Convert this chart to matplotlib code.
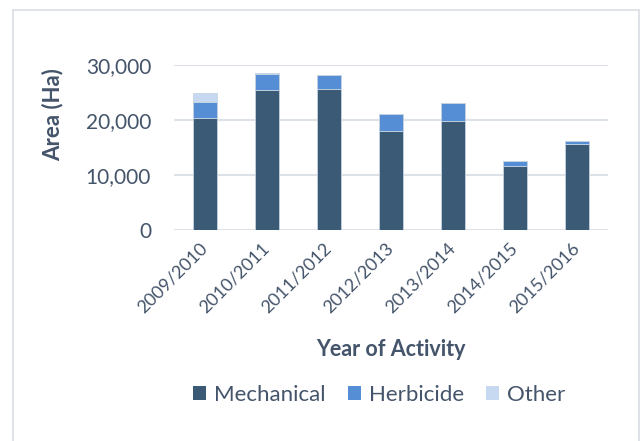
import matplotlib.pyplot as plt
from matplotlib.patches import Rectangle
from matplotlib.ticker import FuncFormatter
import numpy as np

years = ["2009/2010", "2010/2011", "2011/2012", "2012/2013",
         "2013/2014", "2014/2015", "2015/2016"]
mechanical = [20400, 25400, 25580, 17950, 19760, 11650, 15560]
herbicide = [2930, 2900, 2550, 3080, 3270, 850, 600]
other = [1630, 300, 0, 0, 0, 0, 0]

colors = ["#3A5A75", "#558ED5", "#C6D9F1"]
text_col = "#44546A"

plt.rcParams['font.family'] = ['Lato', 'DejaVu Sans']

fig = plt.figure(figsize=(6.42, 4.41), dpi=100)
W, H = 642, 441
ax = fig.add_axes([174 / W, 1 - 230 / H, (608 - 174) / W, (230 - 65) / H])

# outer frame like the Excel chart area
fig.patches.append(Rectangle((13 / W, -0.01), (639 - 13) / W, 1 - 10 / H + 0.01,
                             transform=fig.transFigure, fill=False,
                             edgecolor="#D9DEE4", linewidth=1.2))

x = np.arange(len(years))
bottom2 = np.array(mechanical) + np.array(herbicide)
edge = dict(edgecolor="#C5D3E0", linewidth=0.6, width=0.4)
ax.bar(x, mechanical, color=colors[0], label="Mechanical", zorder=3, **edge)
ax.bar(x, herbicide, bottom=mechanical, color=colors[1], label="Herbicide", zorder=3, **edge)
ax.bar(x, other, bottom=bottom2, color=colors[2], label="Other", zorder=3, **edge)

ax.set_xlim(-0.5, len(years) - 0.5)
ax.set_ylim(0, 30000)
ax.set_yticks([0, 10000, 20000, 30000])
ax.yaxis.set_major_formatter(FuncFormatter(lambda v, p: f"{v:,.0f}"))
ax.grid(axis="y", color="#DDE2E8", linewidth=1.5, zorder=0)
for s in ax.spines.values():
    s.set_visible(False)
ax.tick_params(axis="y", length=0, pad=16.5, labelsize=15, labelcolor=text_col)
ax.tick_params(axis="x", length=0, pad=11, labelsize=13, labelcolor=text_col)
ax.set_xticks(x)
ax.set_xticklabels(years, rotation=45, ha="right", va="center", rotation_mode="anchor")

fig.text(53 / W, 1 - 115 / H, "Area (Ha)", rotation=90, ha="center", va="center",
         fontsize=16, fontweight="bold", color=text_col)
fig.text(391 / W, 1 - 349 / H, "Year of Activity", ha="center", va="center",
         fontsize=15.5, fontweight="bold", color=text_col)

leg = fig.legend(loc="center", bbox_to_anchor=(379 / W, 1 - 395 / H), ncol=3,
                 frameon=False, fontsize=16, handlelength=0.6, handleheight=0.6,
                 handletextpad=0.35, columnspacing=1.0, labelcolor=text_col)
for h in leg.legend_handles:
    h.set_edgecolor("none")

fig.savefig("out.png", dpi=100)
